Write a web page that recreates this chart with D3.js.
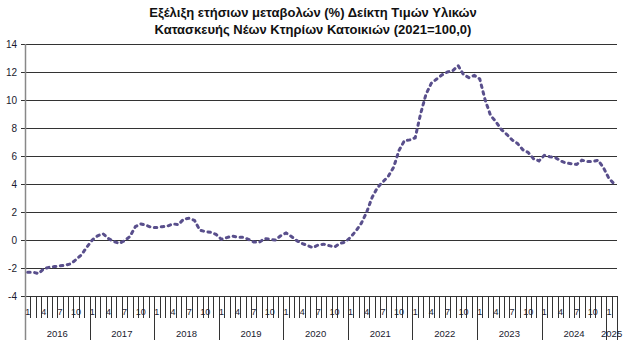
<!DOCTYPE html>
<html>
<head>
<meta charset="utf-8">
<script src="https://cdn.jsdelivr.net/npm/d3@7"></script>
<style>
  body { margin: 0; background: #fff; }
  text { font-family: "Liberation Sans", Arial, sans-serif; }
</style>
</head>
<body>
<div id="chart"></div>
<script>
// data (annual % change, monthly, Jan 2016 - Feb 2025)
const years = [2016, 2017, 2018, 2019, 2020, 2021, 2022, 2023, 2024, 2025];
const monthLabels = [1, 4, 7, 10];
const yTicks = [-4, -2, 0, 2, 4, 6, 8, 10, 12, 14];
const titleLines = [
    "Εξέλιξη ετήσιων μεταβολών (%) Δείκτη Τιμών Υλικών",
    "Κατασκευής Νέων Κτηρίων Κατοικιών (2021=100,0)"
];
const v2016 = [-2.3, -2.3, -2.4, -2.05, -1.95, -1.9, -1.85, -1.8, -1.7, -1.4, -1.05, -0.5];
const v2017 = [0.0, 0.3, 0.45, 0.1, -0.1, -0.25, -0.05, 0.25, 0.95, 1.15, 1.05, 0.9];
const v2018 = [0.9, 0.95, 1.0, 1.15, 1.1, 1.5, 1.55, 1.4, 0.7, 0.6, 0.55, 0.4];
const v2019 = [0.05, 0.17, 0.28, 0.2, 0.2, 0.05, -0.14, -0.17, 0.1, 0.05, 0.0, 0.3];
const v2020 = [0.5, 0.25, -0.05, -0.25, -0.4, -0.55, -0.35, -0.3, -0.4, -0.5, -0.25, -0.15];
const v2021 = [0.2, 0.65, 1.2, 2.0, 3.05, 3.75, 4.15, 4.55, 5.2, 6.4, 7.1, 7.15];
const v2022 = [7.3, 9.0, 10.4, 11.2, 11.5, 11.8, 12.0, 12.1, 12.45, 11.8, 11.6, 11.75];
const v2023 = [11.5, 10.0, 8.9, 8.45, 7.9, 7.55, 7.15, 6.9, 6.45, 6.25, 5.8, 5.65];
const v2024 = [6.05, 5.95, 5.9, 5.65, 5.5, 5.45, 5.4, 5.7, 5.6, 5.6, 5.7, 5.15];
const v2025 = [4.4, 4.0];

const yearValues = [v2016, v2017, v2018, v2019, v2020, v2021, v2022, v2023, v2024, v2025];

const W = 624, H = 352;
const margin = {l: 25, r: 7, t: 44, b: 56};

let points = [];
yearValues.forEach(function(arr, yi) {
    arr.forEach(function(v, mi) {
        points.push({year: years[yi], month: mi + 1, value: v, i: points.length});
    });
});

const svg = d3.select("#chart").append("svg")
    .attr("width", W)
    .attr("height", H);

svg.append("rect").attr("width", W).attr("height", H).attr("fill", "#fff");

const x = d3.scaleBand()
    .domain(points.map(d => d.i))
    .range([margin.l, W - margin.r]);
const y = d3.scaleLinear()
    .domain([-4, 14])
    .range([H - margin.b, margin.t]);

// title
svg.append("g").selectAll("text")
    .data(titleLines)
    .enter().append("text")
    .attr("x", W / 2 + 1)
    .attr("y", (d, i) => 17 + i * 17)
    .attr("text-anchor", "middle")
    .attr("font-size", 13)
    .attr("font-weight", "bold")
    .attr("fill", "#111")
    .text(d => d);

// gridlines
svg.append("g").selectAll("line")
    .data(yTicks)
    .enter().append("line")
    .attr("x1", margin.l - 4)
    .attr("x2", W - margin.r)
    .attr("y1", d => Math.round(y(d)) + 0.5)
    .attr("y2", d => Math.round(y(d)) + 0.5)
    .attr("stroke", "#333")
    .attr("stroke-width", 1);

// y labels
svg.append("g").selectAll("text")
    .data(yTicks)
    .enter().append("text")
    .attr("x", margin.l - 8)
    .attr("y", d => y(d) + 3.5)
    .attr("text-anchor", "end")
    .attr("font-size", 10)
    .attr("fill", "#1a1a2e")
    .text(d => d);

// y axis line
svg.append("line")
    .attr("x1", margin.l + 0.5).attr("x2", margin.l + 0.5)
    .attr("y1", y(14)).attr("y2", y(-4))
    .attr("stroke", "#888")
    .attr("stroke-width", 1.5);

// x axis: month ticks and year separators
const bottom = y(-4);
const xg = svg.append("g");
xg.selectAll("line.m")
    .data(points)
    .enter().append("line")
    .attr("class", "m")
    .attr("x1", d => Math.round(x(d.i) + x.bandwidth()) + 0.5)
    .attr("x2", d => Math.round(x(d.i) + x.bandwidth()) + 0.5)
    .attr("y1", bottom)
    .attr("y2", d => d.month === 12 || d.i === points.length - 1 ? bottom + 44 : bottom + 22)
    .attr("stroke", "#333")
    .attr("stroke-width", 1);
xg.append("line")
    .attr("x1", margin.l + 0.5).attr("x2", margin.l + 0.5)
    .attr("y1", bottom).attr("y2", bottom + 44)
    .attr("stroke", "#888")
    .attr("stroke-width", 1.5);

xg.selectAll("text.m")
    .data(points.filter(d => monthLabels.includes(d.month)))
    .enter().append("text")
    .attr("class", "m")
    .attr("x", d => x(d.i) + x.bandwidth() / 2)
    .attr("y", bottom + 19)
    .attr("text-anchor", "middle")
    .attr("font-size", 9)
    .attr("fill", "#1a1a2e")
    .text(d => d.month);

xg.selectAll("text.y")
    .data(years)
    .enter().append("text")
    .attr("class", "y")
    .attr("x", function(yr) {
        const pts = points.filter(d => d.year === yr);
        const a = x(pts[0].i), b = x(pts[pts.length - 1].i) + x.bandwidth();
        return (a + b) / 2;
    })
    .attr("y", bottom + 41)
    .attr("text-anchor", "middle")
    .attr("font-size", 9.5)
    .attr("fill", "#1a1a2e")
    .text(d => d);

// series line
const line = d3.line()
    .x(d => x(d.i) + x.bandwidth() / 2)
    .y(d => y(d.value));

svg.append("path")
    .datum(points)
    .attr("d", line)
    .attr("fill", "none")
    .attr("stroke", "#594f8c")
    .attr("stroke-width", 3)
    .attr("stroke-linecap", "round")
    .attr("stroke-dasharray", "2.5,4.5");
</script>
</body>
</html>
